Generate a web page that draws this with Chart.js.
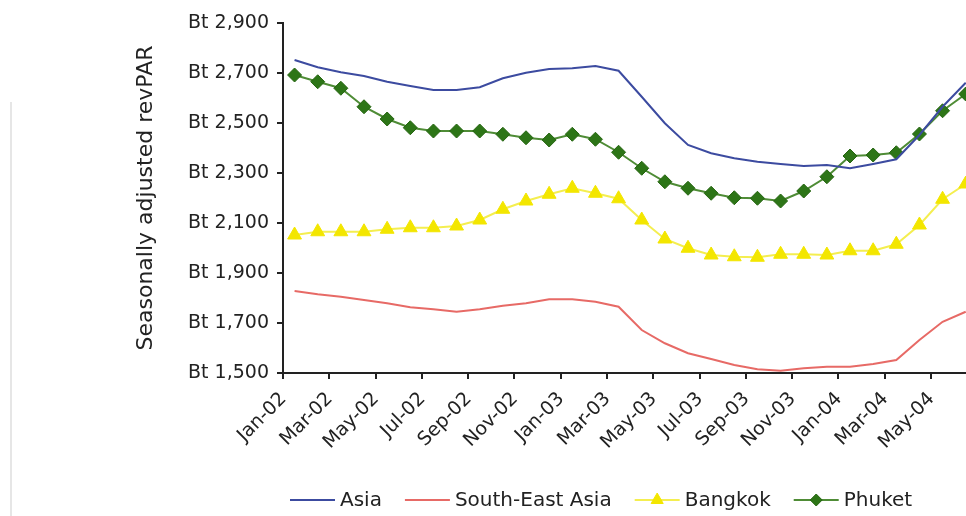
<!DOCTYPE html>
<html><head><meta charset="utf-8">
<script src="https://cdn.jsdelivr.net/npm/chart.js@4/dist/chart.umd.min.js"></script>
<style>
html,body{margin:0;padding:0;background:#fff;overflow:hidden;width:966px;height:516px;}
#wrap{position:absolute;left:0;top:0;width:991px;height:516px;}
#edge{position:absolute;left:10px;top:102px;width:2px;height:414px;background:#e6e6e6;}
</style></head><body>
<div id="edge"></div>
<div id="wrap"><canvas id="c" width="991" height="516"></canvas></div>
<script>
const months = ['Jan-02','Feb-02','Mar-02','Apr-02','May-02','Jun-02','Jul-02','Aug-02','Sep-02','Oct-02','Nov-02','Dec-02',
  'Jan-03','Feb-03','Mar-03','Apr-03','May-03','Jun-03','Jul-03','Aug-03','Sep-03','Oct-03','Nov-03','Dec-03',
  'Jan-04','Feb-04','Mar-04','Apr-04','May-04','Jun-04'];
const asia    = [2752,2723,2703,2688,2665,2648,2632,2632,2643,2679,2701,2716,2719,2728,2709,2605,2499,2412,2379,2359,2345,2336,2328,2332,2319,2336,2355,2452,2565,2661];
const seAsia  = [1828,1815,1805,1792,1779,1763,1755,1745,1755,1769,1779,1795,1795,1785,1765,1672,1619,1579,1556,1532,1515,1509,1519,1525,1525,1536,1552,1632,1705,1745];
const bangkok = [2052,2065,2065,2065,2075,2081,2081,2088,2112,2155,2188,2215,2239,2219,2197,2112,2036,1999,1972,1965,1963,1975,1975,1972,1989,1989,2015,2092,2195,2256];
const phuket  = [2692,2665,2639,2565,2516,2481,2468,2468,2468,2455,2441,2432,2455,2435,2383,2319,2265,2239,2219,2201,2199,2188,2228,2285,2368,2372,2381,2456,2549,2616];
const yTickValues = [1500,1700,1900,2100,2300,2500,2700,2900];
const seriesNames = ['Asia','South-East Asia','Bangkok','Phuket'];

function drawMarker(ctx, style, x, y, r, fill, stroke){
  ctx.save();
  ctx.fillStyle = fill; ctx.strokeStyle = stroke; ctx.lineWidth = 1;
  ctx.beginPath();
  if (style === 'triangle') {
    ctx.moveTo(x, y - r);
    ctx.lineTo(x + r*Math.cos(Math.PI/6), y + r/2);
    ctx.lineTo(x - r*Math.cos(Math.PI/6), y + r/2);
  } else {
    ctx.moveTo(x, y - r); ctx.lineTo(x + r, y); ctx.lineTo(x, y + r); ctx.lineTo(x - r, y);
  }
  ctx.closePath(); ctx.fill(); ctx.stroke();
  ctx.restore();
}

const legendPlugin = {
  id: 'xlLegend',
  afterDraw(chart){
    const ctx = chart.ctx;
    ctx.save();
    ctx.font = '20px "DejaVu Sans"';
    ctx.textBaseline = 'middle';
    let x = 290; const y = 500;
    chart.data.datasets.forEach(ds => {
      ctx.strokeStyle = ds.borderColor; ctx.lineWidth = 2;
      ctx.beginPath(); ctx.moveTo(x, y); ctx.lineTo(x + 45, y); ctx.stroke();
      if (ds.pointRadius > 0) drawMarker(ctx, ds.pointStyle, x + 22.5, y, ds.pointRadius - 1, ds.pointBackgroundColor, ds.pointBorderColor);
      ctx.fillStyle = '#222';
      ctx.fillText(ds.label, x + 50, y + 1);
      x += 50 + ctx.measureText(ds.label).width + 23;
    });
    ctx.restore();
  }
};

new Chart(document.getElementById('c'), {
  type: 'line',
  data: {
    labels: months,
    datasets: [
      {label: seriesNames[0], data: asia, borderColor: '#3c4ba0', borderWidth: 2, pointRadius: 0, tension: 0},
      {label: seriesNames[1], data: seAsia, borderColor: '#e76a66', borderWidth: 2, pointRadius: 0, tension: 0},
      {label: seriesNames[2], data: bangkok, borderColor: '#f4ee50', borderWidth: 2, pointStyle: 'triangle', pointRadius: 8,
        pointBackgroundColor: '#f3e600', pointBorderColor: '#f3e600', pointBorderWidth: 1, tension: 0},
      {label: seriesNames[3], data: phuket, borderColor: '#4f8c36', borderWidth: 2, pointStyle: 'rectRot', pointRadius: 7,
        pointBackgroundColor: '#2d7517', pointBorderColor: '#256510', pointBorderWidth: 1, tension: 0}
    ]
  },
  options: {
    responsive: false, animation: false, devicePixelRatio: 1,
    layout: {padding: {left: 128, top: 23, right: 0, bottom: 0}},
    plugins: {legend: {display: false}, tooltip: {enabled: false}},
    scales: {
      x: {
        type: 'category', offset: true,
        grid: {offset: true, drawOnChartArea: false, drawTicks: true, tickLength: 6, lineWidth: 2,
          color: c => (c.index !== undefined && c.index % 2 === 0) ? '#222' : 'rgba(0,0,0,0)'},
        border: {display: true, color: '#222', width: 2},
        ticks: {autoSkip: false, maxRotation: 45, minRotation: 45, labelOffset: -11, padding: 9, color: '#222',
          font: {family: 'DejaVu Sans', size: 19},
          callback: (v, i) => i % 2 === 0 ? months[i] : ''},
        afterFit: s => { s.height = 143; }
      },
      y: {
        min: 1500, max: 2900,
        afterBuildTicks: s => { s.ticks = yTickValues.map(v => ({value: v})); },
        grid: {drawOnChartArea: false, tickLength: 6, color: '#222', lineWidth: 2},
        border: {display: true, color: '#222', width: 2},
        ticks: {padding: 8, color: '#222', font: {family: 'DejaVu Sans', size: 19},
          callback: v => 'Bt ' + Number(v).toLocaleString('en-US')},
        title: {display: true, text: 'Seasonally adjusted revPAR', color: '#222',
          font: {family: 'DejaVu Sans', size: 22}, padding: {top: 5, bottom: 0}},
        afterFit: s => { s.width = 283 - 128; }
      }
    }
  },
  plugins: [legendPlugin]
});
</script>
</body></html>
